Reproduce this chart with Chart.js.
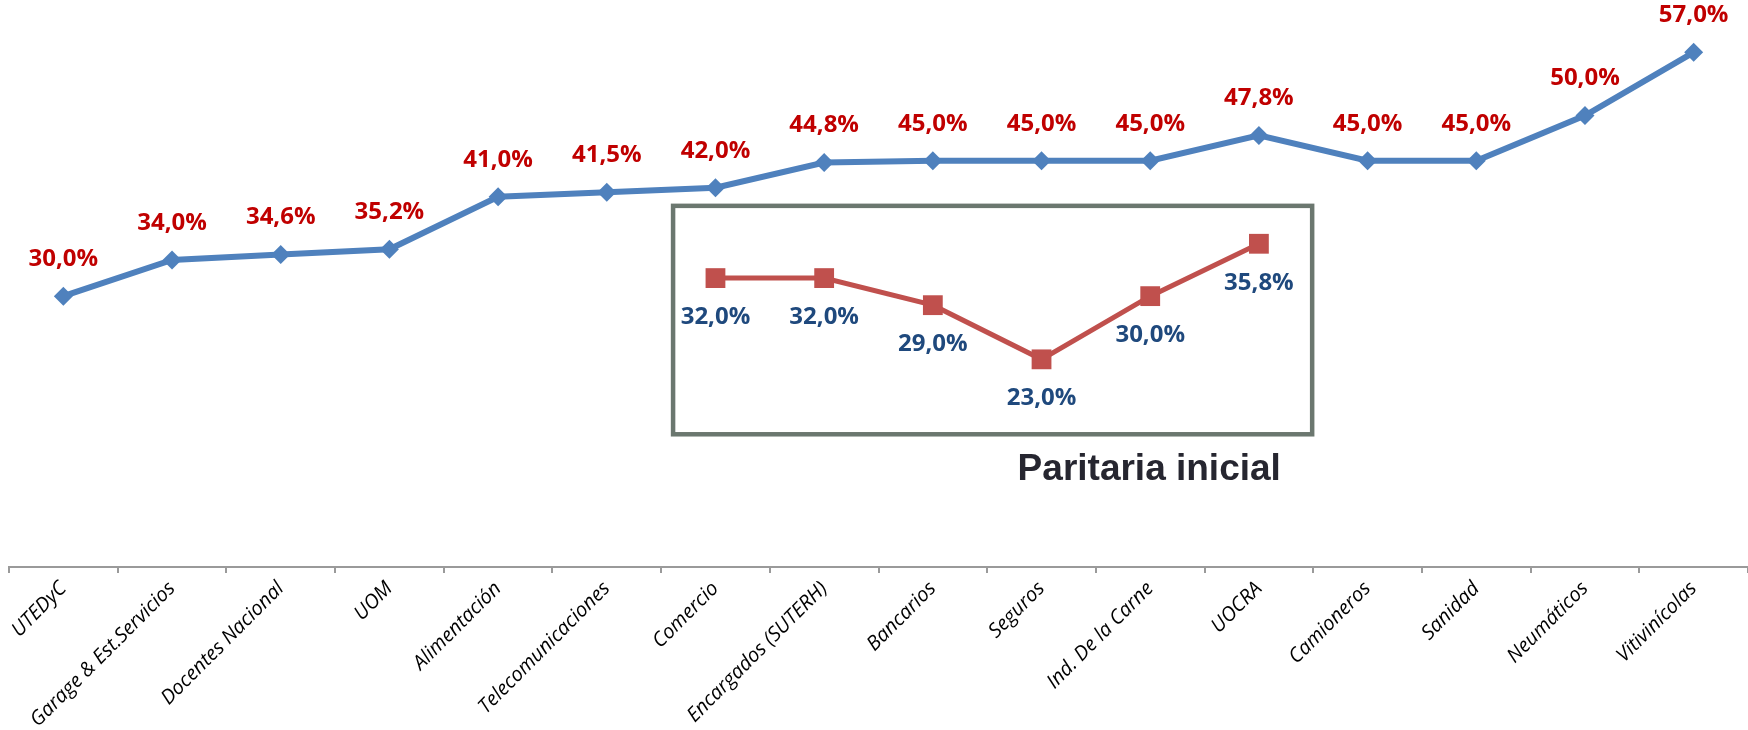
<!DOCTYPE html>
<html>
<head>
<meta charset="utf-8">
<script src="https://cdn.jsdelivr.net/npm/chart.js@4"></script>
<style>
  html, body { margin: 0; padding: 0; background: #fff; }
  #wrap { width: 1748px; height: 730px; position: relative; }
</style>
</head>
<body>
<div id="wrap"><canvas id="chart"></canvas></div>
<script>
const labels = ["UTEDyC", "Garage & Est.Servicios", "Docentes Nacional", "UOM", "Alimentación",
  "Telecomunicaciones", "Comercio", "Encargados (SUTERH)", "Bancarios", "Seguros",
  "Ind. De la Carne", "UOCRA", "Camioneros", "Sanidad", "Neumáticos", "Vitivinícolas"];

const finalValues = [30.0, 34.0, 34.6, 35.2, 41.0, 41.5, 42.0, 44.8, 45.0, 45.0, 45.0, 47.8, 45.0, 45.0, 50.0, 57.0];
const initialValues = [null, null, null, null, null, null, 32.0, 32.0, 29.0, 23.0, 30.0, 35.8, null, null, null, null];

const insetTitle = "Paritaria inicial";

// inset frame in scale units (category index / percent)
const box = { x0: 5.61, x1: 11.49, y0: 40.0, y1: 14.7 };

const fmt = v => v.toFixed(1).replace(".", ",") + "%";

const valueLabels = {
  id: "valueLabels",
  afterDatasetsDraw(chart) {
    const ctx = chart.ctx;
    ctx.save();
    ctx.font = "bold 24px 'Open Sans'";
    ctx.textAlign = "center";
    ctx.textBaseline = "middle";
    chart.data.datasets.forEach((ds, i) => {
      const meta = chart.getDatasetMeta(i);
      meta.data.forEach((pt, j) => {
        const v = ds.data[j];
        if (v == null) return;
        ctx.fillStyle = ds.labelColor;
        ctx.fillText(fmt(v), pt.x, pt.y + ds.labelOffset);
      });
    });
    ctx.restore();
  }
};

const insetBox = {
  id: "insetBox",
  beforeDatasetsDraw(chart) {
    const { ctx, scales: { x, y } } = chart;
    const left = x.getPixelForValue(box.x0);
    const right = x.getPixelForValue(box.x1);
    const top = y.getPixelForValue(box.y0);
    const bottom = y.getPixelForValue(box.y1);
    ctx.save();
    ctx.strokeStyle = "#6b776f";
    ctx.lineWidth = 4.5;
    ctx.strokeRect(left, top, right - left, bottom - top);
    ctx.fillStyle = "#262630";
    ctx.font = "bold 37px 'Liberation Sans'";
    ctx.textAlign = "left";
    ctx.textBaseline = "alphabetic";
    ctx.fillText(insetTitle, x.getPixelForValue(8.78), y.getPixelForValue(9.6));
    ctx.restore();
  }
};

new Chart(document.getElementById("chart").getContext("2d"), {
  type: "line",
  data: {
    labels: labels,
    datasets: [
      {
        label: "Final",
        data: finalValues,
        borderColor: "#4f81bd",
        backgroundColor: "#4f81bd",
        borderWidth: 6,
        pointStyle: "rectRot",
        pointRadius: 9.5,
        pointBorderWidth: 0,
        tension: 0,
        labelColor: "#c00000",
        labelOffset: -37
      },
      {
        label: "Inicial",
        data: initialValues,
        borderColor: "#c0504d",
        backgroundColor: "#c0504d",
        borderWidth: 5,
        pointStyle: "rect",
        pointRadius: 14,
        pointBorderWidth: 0,
        tension: 0,
        labelColor: "#1f497d",
        labelOffset: 39
      }
    ]
  },
  options: {
    responsive: true,
    maintainAspectRatio: false,
    animation: false,
    layout: { autoPadding: false, padding: { left: 9, right: 0, top: 0, bottom: 0 } },
    plugins: {
      legend: { display: false },
      tooltip: { enabled: false }
    },
    scales: {
      x: {
        offset: true,
        afterFit(scale) {
          scale.height = 163;
          scale.paddingLeft = 0;
          scale.paddingRight = 0;
        },
        border: { display: true, color: "#9a9a9a", width: 2 },
        grid: { offset: true, drawOnChartArea: false, tickLength: 6, color: "#9a9a9a", lineWidth: 2 },
        ticks: {
          autoSkip: false,
          maxRotation: 45,
          minRotation: 45,
          padding: 4,
          color: "#000",
          font: { family: "'Open Sans'", size: 20, style: "italic" }
        }
      },
      y: {
        display: false,
        min: 0,
        max: 62.8
      }
    }
  },
  plugins: [insetBox, valueLabels]
});
</script>
</body>
</html>
